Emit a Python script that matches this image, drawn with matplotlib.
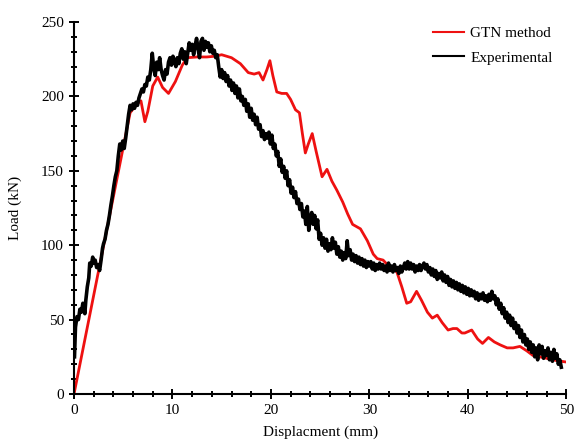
import matplotlib.pyplot as plt
from matplotlib.ticker import MultipleLocator

# GTN simulation (smooth)
gtn_disp = [0, 5.7, 6.4, 6.8, 7.0, 7.2, 7.5, 8.0, 8.5, 9.0, 9.6, 10.3, 11.0, 11.5,
            12.5, 13.5, 14.3, 15.0, 16.0, 16.9, 17.7, 18.3, 18.8, 19.2, 19.6,
            19.9, 20.2, 20.6, 21.1, 21.6, 22.0, 22.5, 22.9, 23.2, 23.5, 23.8,
            24.2, 24.6, 25.2, 25.7, 26.2, 26.7, 27.3, 27.8, 28.3, 29.1, 29.8,
            30.4, 30.8, 31.4, 32.1, 32.8, 33.3, 33.8, 34.2, 34.8, 35.3, 35.9,
            36.4, 36.9, 37.4, 38.0, 38.5, 38.9, 39.4, 39.7, 40.4, 41.0, 41.5,
            42.1, 42.7, 43.3, 44.0, 44.6, 45.3, 46.0, 46.6, 47.3, 48.0, 49.0, 50.0]
gtn_load = [0, 189, 195, 197, 190, 183, 190, 207, 213, 206, 202, 210, 221, 226,
            226.5, 226.5, 227, 228, 226, 222, 216, 215, 216, 211, 218,
            224, 214, 203, 202, 202, 198, 191, 189, 175, 162, 168,
            175, 163, 146, 151, 143, 137, 129, 121, 114, 111, 103,
            94, 91, 90, 85, 82, 72, 61, 62, 69, 63, 55,
            51, 53, 48, 43, 44, 44, 41, 41, 43, 37, 34,
            38, 35, 33, 31, 31, 32, 29, 26, 25, 24, 22.5, 21.5]

# experimental record (noisy)
exp_disp = [0.05, 0.15, 0.3, 0.45, 0.6, 0.75, 0.9, 1.0, 1.1, 1.2, 1.35, 1.5, 1.6,
            1.75, 1.9, 2.0, 2.15, 2.3, 2.45, 2.6, 2.75, 2.9, 3.0, 3.15, 3.3,
            3.45, 3.6, 3.75, 3.9, 4.05, 4.2, 4.35, 4.5, 4.65, 4.8, 4.95, 5.1,
            5.25, 5.4, 5.55, 5.7, 5.85, 6.0, 6.15, 6.3, 6.45, 6.6, 6.75, 6.9,
            7.05, 7.2, 7.35, 7.5, 7.65, 7.8, 7.95, 8.1, 8.25, 8.4, 8.55, 8.7,
            8.85, 9.0, 9.15, 9.3, 9.45, 9.6, 9.75, 9.9, 10.05, 10.2, 10.35,
            10.5, 10.65, 10.8, 10.95, 11.1, 11.25, 11.4, 11.55, 11.7, 11.85,
            12.0, 12.15, 12.3, 12.45, 12.6, 12.75, 12.9, 13.05, 13.2, 13.35,
            13.5, 13.65, 13.8, 13.95, 14.1, 14.25, 14.4, 14.55, 14.7, 14.85,
            15.0, 15.15, 15.3, 15.45, 15.6, 15.75, 15.9, 16.05, 16.2, 16.35,
            16.5, 16.65, 16.8, 16.95, 17.1, 17.25, 17.4, 17.55, 17.7, 17.85,
            18.0, 18.15, 18.3, 18.45, 18.6, 18.75, 18.9, 19.05, 19.2, 19.35,
            19.5, 19.65, 19.8, 19.95, 20.1, 20.25, 20.4, 20.55, 20.7, 20.85,
            21.0, 21.15, 21.3, 21.45, 21.6, 21.75, 21.9, 22.05, 22.2, 22.35,
            22.5, 22.65, 22.8, 22.95, 23.1, 23.25, 23.4, 23.55, 23.7, 23.85,
            24.0, 24.15, 24.3, 24.45, 24.6, 24.75, 24.9, 25.05, 25.2, 25.35,
            25.5, 25.65, 25.8, 25.95, 26.1, 26.25, 26.4, 26.55, 26.7, 26.85,
            27.0, 27.15, 27.3, 27.45, 27.6, 27.75, 27.9, 28.05, 28.2, 28.35,
            28.5, 28.65, 28.8, 28.95, 29.1, 29.25, 29.4, 29.55, 29.7, 29.85,
            30.0, 30.15, 30.3, 30.45, 30.6, 30.75, 30.9, 31.05, 31.2, 31.35,
            31.5, 31.65, 31.8, 31.95, 32.1, 32.25, 32.4, 32.55, 32.7, 32.85,
            33.0, 33.15, 33.3, 33.45, 33.6, 33.75, 33.9, 34.05, 34.2, 34.35,
            34.5, 34.65, 34.8, 34.95, 35.1, 35.25, 35.4, 35.55, 35.7, 35.85,
            36.0, 36.15, 36.3, 36.45, 36.6, 36.75, 36.9, 37.05, 37.2, 37.35,
            37.5, 37.65, 37.8, 37.95, 38.1, 38.25, 38.4, 38.55, 38.7, 38.85,
            39.0, 39.15, 39.3, 39.45, 39.6, 39.75, 39.9, 40.05, 40.2, 40.35,
            40.5, 40.65, 40.8, 40.95, 41.1, 41.25, 41.4, 41.55, 41.7, 41.85,
            42.0, 42.15, 42.3, 42.45, 42.6, 42.75, 42.9, 43.05, 43.2, 43.35,
            43.5, 43.65, 43.8, 43.95, 44.1, 44.25, 44.4, 44.55, 44.7, 44.85,
            45.0, 45.15, 45.3, 45.45, 45.6, 45.75, 45.9, 46.05, 46.2, 46.35,
            46.5, 46.65, 46.8, 46.95, 47.1, 47.25, 47.4, 47.55, 47.7, 47.85,
            48.0, 48.15, 48.3, 48.45, 48.6, 48.75, 48.9, 49.05, 49.2, 49.35, 49.5]
exp_load = [25, 45, 52, 50, 57, 55, 61, 58, 54, 63, 72, 78, 88,
            86, 92, 88, 90, 85, 87, 83, 90, 98, 101, 104, 110,
            114, 120, 127, 133, 140, 146, 150, 160, 168, 164, 170, 165,
            172, 180, 188, 194, 191, 195, 192, 196, 194, 199, 202, 205,
            203, 208, 207, 213, 211, 218, 229, 219, 214, 223, 218, 226,
            218, 214, 211, 218, 215, 223, 226, 221, 227, 224, 220,
            226, 222, 229, 232, 225, 230, 222, 229, 236, 231,
            235, 228, 234, 239, 232, 226, 237, 239, 231, 237,
            233, 236, 230, 234, 229, 231, 226, 228, 220, 213,
            218, 212, 216, 210, 214, 207, 211, 204, 209, 202,
            207, 199, 205, 197, 200, 194, 198, 190, 195, 186,
            192, 184, 188, 181, 186, 178, 181, 173, 177, 171,
            175, 172, 176, 168, 174, 165, 168, 160, 163, 153,
            158, 149, 153, 145, 150, 140, 144, 135, 139, 132,
            136, 128, 131, 124, 128, 119, 123, 114, 126, 110,
            118, 122, 114, 120, 111, 117, 104, 108, 100, 105,
            98, 104, 96, 101, 97, 105, 98, 102, 94, 99,
            92, 96, 90, 95, 91, 103, 93, 97, 90, 94,
            89, 93, 88, 92, 87, 91, 86, 90, 85, 89,
            86, 89, 84, 88, 83, 87, 84, 88, 84, 87,
            83, 86, 82, 88, 83, 86, 82, 87, 83, 85,
            81, 86, 82, 85, 88, 84, 89, 84, 88, 84,
            87, 82, 86, 83, 87, 83, 86, 88, 84, 87,
            82, 85, 80, 84, 79, 83, 77, 81, 78, 82,
            76, 80, 75, 79, 73, 77, 72, 76, 71, 75,
            70, 74, 69, 73, 68, 72, 67, 71, 66, 70,
            66, 69, 64, 68, 63, 67, 64, 68, 63, 66,
            62, 67, 63, 69, 64, 66, 60, 64, 57, 61,
            54, 58, 51, 55, 48, 53, 46, 51, 44, 48,
            41, 46, 38, 43, 35, 40, 33, 37, 30, 35,
            28, 33, 25, 31, 23, 33, 27, 32, 24, 29,
            26, 31, 23, 28, 22, 30, 24, 27, 20, 23, 18]

plt.rcParams['font.family'] = ['Liberation Serif', 'DejaVu Serif']
plt.rcParams['font.size'] = 11

fig = plt.figure(figsize=(5.75, 4.4), dpi=100)
ax = fig.add_axes([0.1287, 0.1045, 0.856, 0.8455])

ax.plot(gtn_disp, gtn_load, color='#ee1111', lw=2.0, label='GTN method',
        solid_joinstyle='round', zorder=2)
ax.plot(exp_disp, exp_load, color='black', lw=2.6, label='Experimental',
        solid_joinstyle='round', zorder=3)

ax.set_xlim(0, 50)
ax.set_ylim(0, 250)
ax.xaxis.set_major_locator(MultipleLocator(10))
ax.xaxis.set_minor_locator(MultipleLocator(2))
ax.yaxis.set_major_locator(MultipleLocator(50))
ax.yaxis.set_minor_locator(MultipleLocator(10))

for side in ('top', 'right'):
    ax.spines[side].set_visible(False)
for side in ('left', 'bottom'):
    ax.spines[side].set_linewidth(1.5)
ax.tick_params(which='major', direction='inout', length=6.5, width=1.4,
               labelsize=11, pad=4)
ax.tick_params(which='minor', direction='inout', length=5, width=1.4)

ax.set_xlabel('Displacment (mm)', fontsize=11, labelpad=6)
ax.set_ylabel('Load (kN)', fontsize=11, labelpad=14)

leg = ax.legend(loc='upper right', bbox_to_anchor=(1.0, 1.025), frameon=False,
                handlelength=2.0, handletextpad=0.4, labelspacing=0.7,
                fontsize=11)
for line in leg.get_lines():
    line.set_linewidth(1.5)

fig.savefig('out.png', dpi=100)
